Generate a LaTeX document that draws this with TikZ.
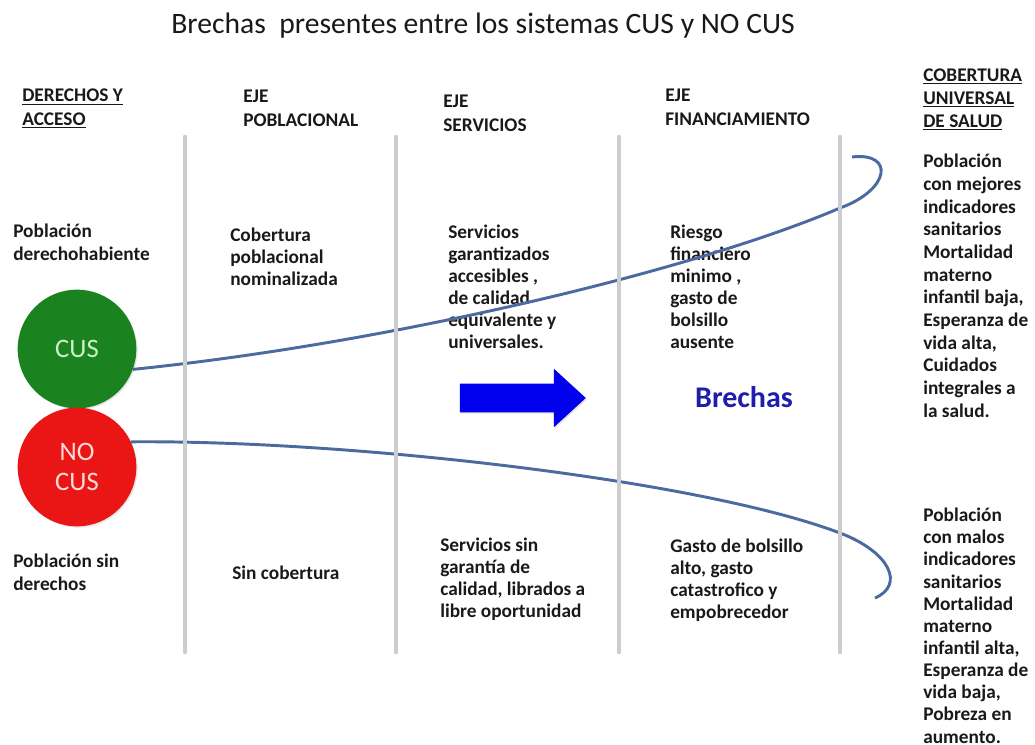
\documentclass[tikz,border=0pt]{standalone}
\usepackage{fontspec}
\setmainfont{Carlito}
\usetikzlibrary{positioning, shapes.arrows, shadows}
\definecolor{cusgreen}{RGB}{26,130,30}
\definecolor{cuslight}{RGB}{205,240,200}
\definecolor{nocusred}{RGB}{234,22,22}
\definecolor{nocuslight}{RGB}{255,220,215}
\definecolor{curveblue}{RGB}{74,106,160}
\definecolor{linegray}{RGB}{205,205,205}
\definecolor{gapblue}{RGB}{0,0,236}
\definecolor{brechablue}{RGB}{30,30,172}
\definecolor{txtdark}{RGB}{25,25,25}
\tikzset{
  lbl/.style={
    font=\fontsize{14.5}{16.6}\selectfont\bfseries,
    text=txtdark,
    align=left,
    anchor=base west,
    inner sep=0pt
  },
  hdr/.style={
    lbl,
    font=\fontsize{14.5}{17.5}\selectfont\bfseries
  },
  titlelbl/.style={
    font=\fontsize{22.2}{26}\selectfont,
    text=txtdark,
    anchor=base,
    inner sep=0pt
  },
  sysnode/.style={
    circle,
    minimum size=89pt,
    inner sep=0pt,
    align=center,
    font=\fontsize{20}{22.5}\selectfont,
    drop shadow={opacity=0.2, shadow xshift=1pt, shadow yshift=-1pt}
  },
  sepline/.style={
    line width=3.5pt,
    draw=linegray,
    line cap=round
  },
  gapcurve/.style={
    line width=2.2pt,
    draw=curveblue
  },
  gaparrow/.style={
    single arrow,
    fill=gapblue,
    minimum height=94.5pt,
    minimum width=43.5pt,
    inner sep=10.5pt,
    single arrow head extend=11.25pt,
    single arrow tip angle=85,
    drop shadow={opacity=0.2, shadow xshift=1pt, shadow yshift=-1pt}
  },
  brecha/.style={
    font=\fontsize{22.5}{24}\selectfont\bfseries,
    text=brechablue,
    inner sep=0pt
  }
}

\begin{document}
\begin{tikzpicture}[x=0.75pt, y=-0.75pt]
  \useasboundingbox (0,0) rectangle (1035,745);

  \node[titlelbl] (titulo) at (483,34) {Brechas~ presentes entre los sistemas CUS y NO CUS};

  % encabezados (base = ultima linea)
  \node[hdr] (hderechos) at (22,125.3) {\underline{DERECHOS Y}\\\underline{ACCESO}};
  \node[hdr] (hpobl) at (243,126.3) {EJE\\POBLACIONAL};
  \node[hdr] (hserv) at (443,131.3) {EJE\\SERVICIOS};
  \node[hdr] (hfin) at (665,125.3) {EJE\\FINANCIAMIENTO};
  \node[hdr] (hcus) at (923,127.7) {\underline{COBERTURA}\\\underline{UNIVERSAL}\\\underline{DE SALUD}};

  % fila CUS
  \node[lbl] (derecho) at (13,260.1) {Población\\derechohabiente};
  \node[lbl] (nominal) at (230,285.3) {Cobertura\\poblacional\\nominalizada};
  \node[lbl] (garant) at (448,348.7) {Servicios\\garantizados\\accesibles ,\\de calidad\\equivalente y\\universales.};
  \node[lbl] (riesgo) at (670,348.7) {Riesgo\\financiero\\minimo ,\\gasto de\\bolsillo\\ausente};
  \node[lbl, font=\fontsize{14.5}{17}\selectfont\bfseries] (mejores) at (923,417) {Población\\con mejores\\indicadores\\sanitarios\\Mortalidad\\materno\\infantil baja,\\Esperanza de\\vida alta,\\Cuidados\\integrales a\\la salud.};

  % fila NO CUS
  \node[lbl] (sinder) at (13,590.1) {Población sin\\derechos};
  \node[lbl] (sincob) at (232,579) {Sin cobertura};
  \node[lbl] (sinserv) at (440,617.4) {Servicios sin\\garantía de\\calidad, librados a\\libre oportunidad};
  \node[lbl] (gasto) at (670,618.4) {Gasto de bolsillo\\alto, gasto\\catastrofico y\\empobrecedor};
  \node[lbl] (malos) at (923,743) {Población\\con malos\\indicadores\\sanitarios\\Mortalidad\\materno\\infantil alta,\\Esperanza de\\vida baja,\\Pobreza en\\aumento.};

  \node[sysnode, fill=cusgreen, text=cuslight] (cus) at (77,349) {CUS};
  \node[sysnode, fill=nocusred, text=nocuslight] (nocus) at (77,467) {NO\\CUS};

  \node[gaparrow] (flecha) at (515,398) {};
  \node[brecha] (brechas) at (744,397) {Brechas};

  % brechas que se abren
  \coordinate (topturn) at (840,208);
  \coordinate (topend) at (852,157);
  \coordinate (botturn) at (840,533);
  \coordinate (botend) at (875,598);
  \draw[gapcurve] (cus.-20) .. controls (400,342) and (700,268) .. (topturn)
    .. controls (890,190) and (895,152) .. (topend);
  \draw[gapcurve] (nocus.25) .. controls (350,440) and (700,480) .. (botturn)
    .. controls (890,552) and (905,585) .. (botend);

  \foreach \x in {185,396,619,840}
    \draw[sepline] (\x,137) -- (\x,652);
\end{tikzpicture}
\end{document}
